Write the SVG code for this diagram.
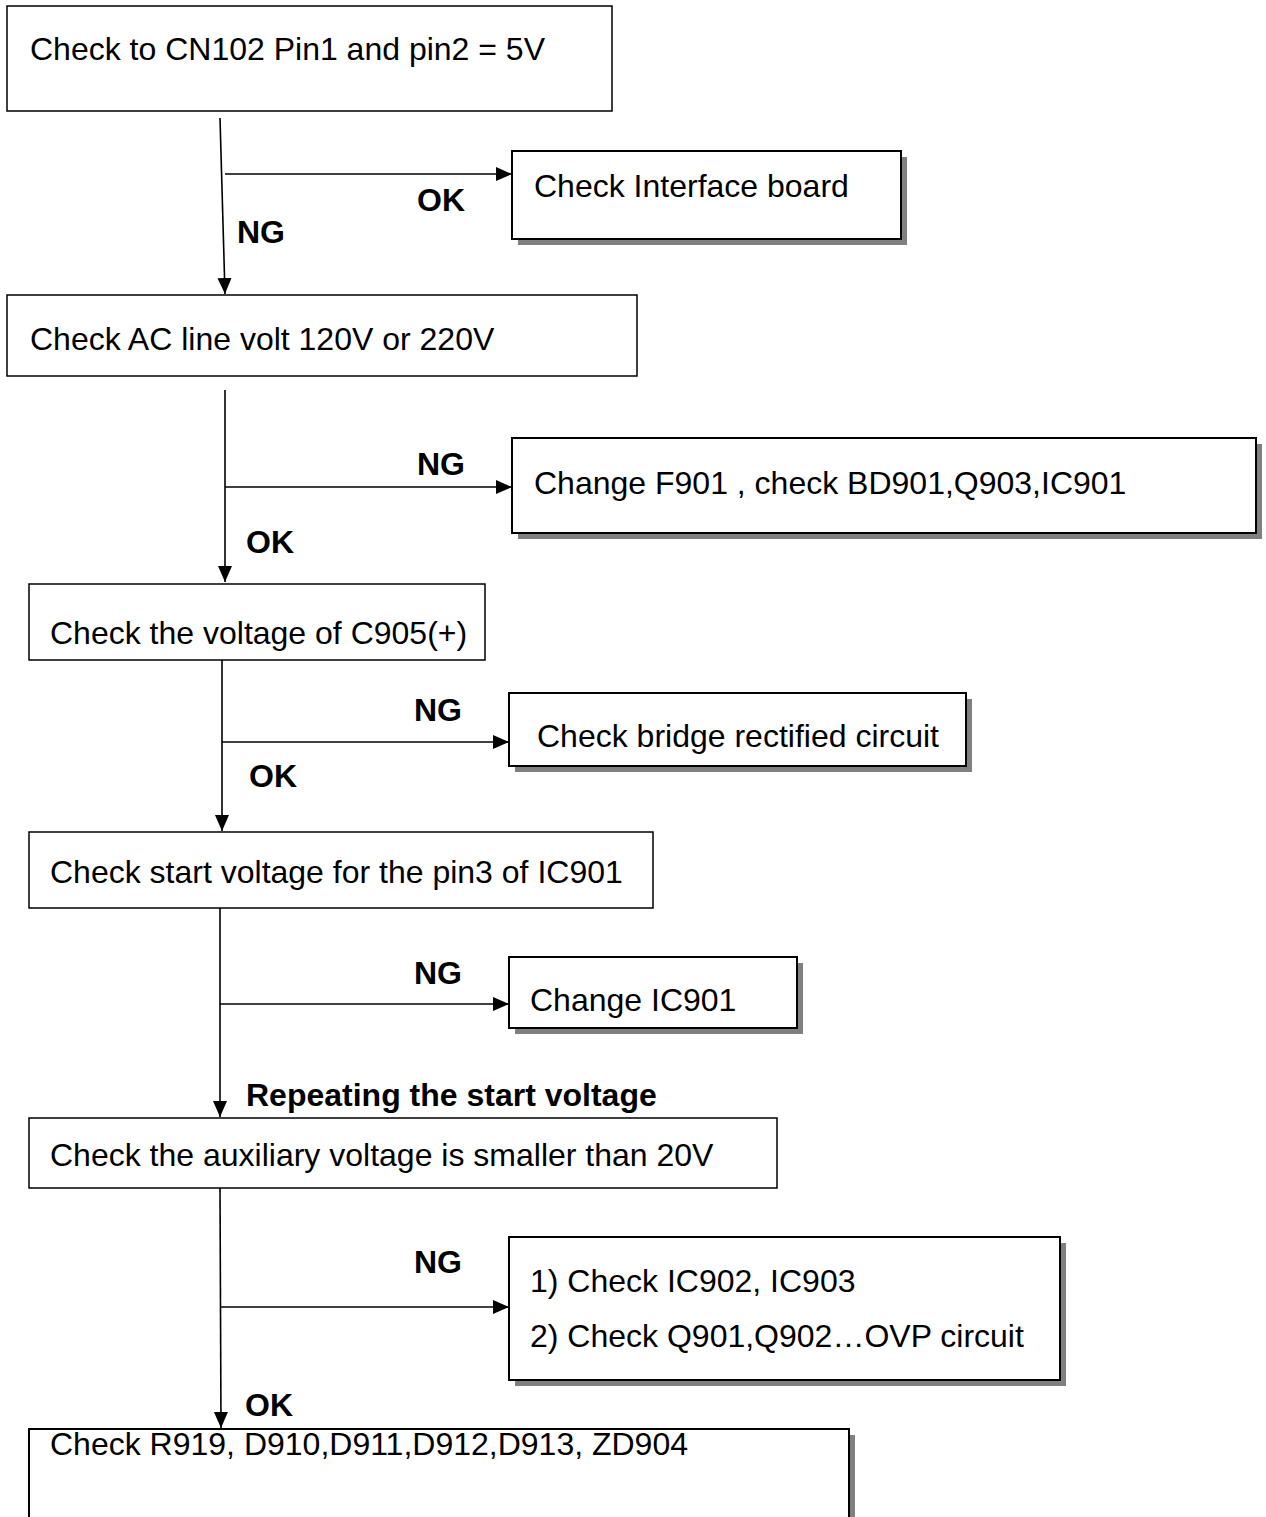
<svg xmlns="http://www.w3.org/2000/svg" width="1266" height="1517" viewBox="0 0 1266 1517">
<defs>
<marker id="arr" markerUnits="userSpaceOnUse" markerWidth="18" markerHeight="18" viewBox="0 0 18 18" refX="16" refY="9" orient="auto">
<path d="M0,2 L16,9 L0,16 Z" fill="#000"/>
</marker>
</defs>
<style>
.box{fill:#fff;stroke:#000;stroke-width:1.5}
.sbox{fill:#fff;stroke:#000;stroke-width:2}
.shadow{fill:#808080}
.t{font-family:"Liberation Sans",Arial,sans-serif;font-size:32px;fill:#000}
.l{font-family:"Liberation Sans",Arial,sans-serif;font-size:32px;font-weight:bold;fill:#000}
.c{stroke:#000;stroke-width:1.6;fill:none;marker-end:url(#arr)}
</style>
<rect width="1266" height="1517" fill="#fff"/>
<g id="connectors">
<path class="c" d="M220,118 L225,294"/>
<path class="c" d="M225,174 L512,174"/>
<path class="c" d="M225,390 L225,582"/>
<path class="c" d="M225,487 L512,487"/>
<path class="c" d="M222,660 L222,831"/>
<path class="c" d="M222,742 L509,742"/>
<path class="c" d="M220,908 L220,1117"/>
<path class="c" d="M220,1004 L509,1004"/>
<path class="c" d="M220,1188 L221,1428"/>
<path class="c" d="M220,1307 L509,1307"/>
</g>
<g id="labels">
<text class="l" x="417" y="211">OK</text>
<text class="l" x="237" y="243">NG</text>
<text class="l" x="417" y="475">NG</text>
<text class="l" x="246" y="553">OK</text>
<text class="l" x="414" y="721">NG</text>
<text class="l" x="249" y="787">OK</text>
<text class="l" x="414" y="984">NG</text>
<text class="l" x="246" y="1106">Repeating the start voltage</text>
<text class="l" x="414" y="1273">NG</text>
<text class="l" x="245" y="1416">OK</text>
</g>
<g id="n1">
<rect class="box" x="7" y="6" width="605" height="105"/>
<text class="t" x="30" y="60">Check to CN102 Pin1 and pin2 = 5V</text>
</g>
<g id="n2">
<rect class="shadow" x="518" y="157" width="389" height="88"/>
<rect class="sbox" x="512" y="151" width="389" height="88"/>
<text class="t" x="534" y="197">Check Interface board</text>
</g>
<g id="n3">
<rect class="box" x="7" y="295" width="630" height="81"/>
<text class="t" x="30" y="350">Check AC line volt 120V or 220V</text>
</g>
<g id="n4">
<rect class="shadow" x="518" y="444" width="744" height="95"/>
<rect class="sbox" x="512" y="438" width="744" height="95"/>
<text class="t" x="534" y="494">Change F901 , check BD901,Q903,IC901</text>
</g>
<g id="n5">
<rect class="box" x="29" y="584" width="456" height="76"/>
<text class="t" x="50" y="644">Check the voltage of C905(+)</text>
</g>
<g id="n6">
<rect class="shadow" x="515" y="699" width="457" height="73"/>
<rect class="sbox" x="509" y="693" width="457" height="73"/>
<text class="t" x="537" y="747">Check bridge rectified circuit</text>
</g>
<g id="n7">
<rect class="box" x="29" y="832" width="624" height="76"/>
<text class="t" x="50" y="883">Check start voltage for the pin3 of IC901</text>
</g>
<g id="n8">
<rect class="shadow" x="515" y="963" width="288" height="71"/>
<rect class="sbox" x="509" y="957" width="288" height="71"/>
<text class="t" x="530" y="1011">Change IC901</text>
</g>
<g id="n9">
<rect class="box" x="29" y="1118" width="748" height="70"/>
<text class="t" x="50" y="1166">Check the auxiliary voltage is smaller than 20V</text>
</g>
<g id="n10">
<rect class="shadow" x="515" y="1243" width="551" height="143"/>
<rect class="sbox" x="509" y="1237" width="551" height="143"/>
<text class="t" x="530" y="1292">1) Check IC902, IC903</text>
<text class="t" x="530" y="1347">2) Check Q901,Q902…OVP circuit</text>
</g>
<g id="n11">
<rect class="shadow" x="35" y="1435" width="820" height="100"/>
<rect class="sbox" x="29" y="1429" width="820" height="100"/>
<text class="t" x="50" y="1455">Check R919, D910,D911,D912,D913, ZD904</text>
</g>
</svg>
